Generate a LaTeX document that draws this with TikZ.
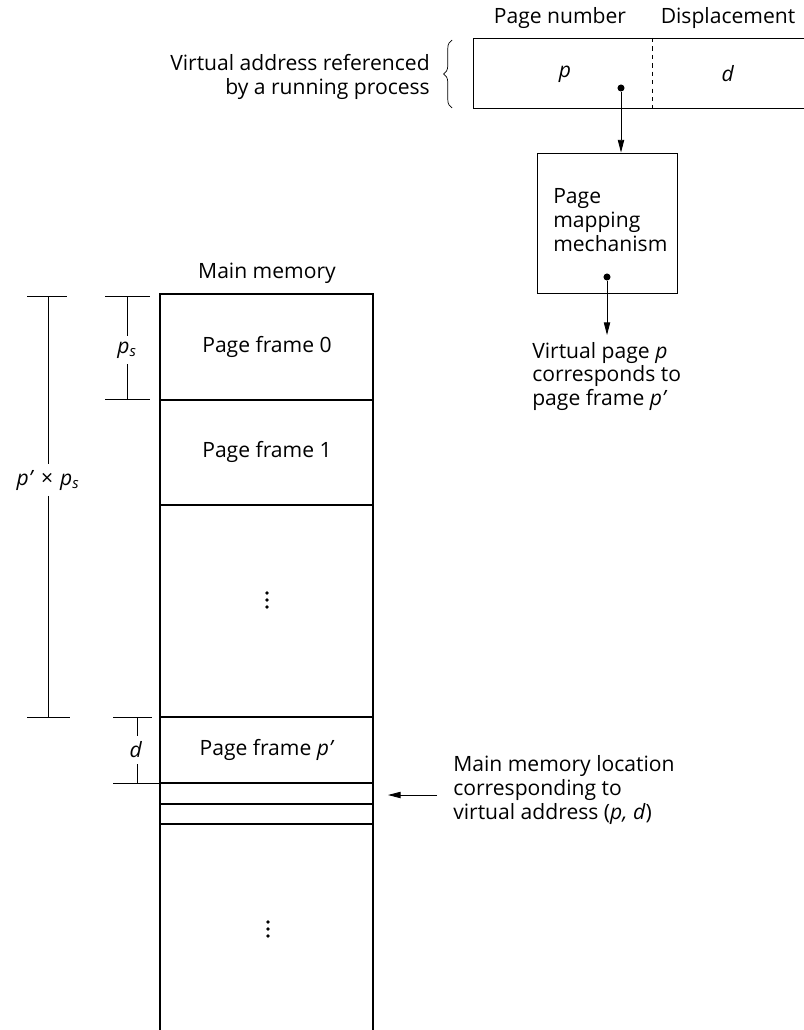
\documentclass[tikz,border=0pt]{standalone}
\usepackage{fontspec}
\setmainfont{Open Sans}
\usetikzlibrary{arrows.meta, positioning, decorations.pathreplacing}

\begin{document}
\begin{tikzpicture}[x=0.025cm, y=-0.025cm,
  txt/.style={font=\fontsize{15}{16.8}\selectfont, inner sep=0pt},
  note/.style={txt, align=left},
  box/.style={draw, line width=0.6pt},
  mem/.style={line width=0.8pt},
  dim/.style={line width=0.6pt},
  arrow/.style={-{Triangle[length=9pt,width=4.5pt]}, line width=0.6pt},
  dot/.style={circle, fill, inner sep=0pt, minimum size=5pt},
  vdot/.style={circle, fill, inner sep=0pt, minimum size=2.8pt}
]
\useasboundingbox (0,0) rectangle (803,1030);

% Virtual address
\draw[box] (810,38) -- (473,38) -- (473,108) -- (810,108);
\draw[dashed, line width=0.5pt] (652,38) -- (652,108);
\node[txt] (pnum) at (560,18) {Page number};
\node[txt] (disp) at (728,18) {Displacement};
\node[txt] (p) at (565,74) {\textit{p}};
\node[txt] (d) at (728,74) {\textit{d}};
\node[dot] (pdot) at (621,88) {};
\draw[decorate, decoration={brace, amplitude=6pt}, line width=0.5pt]
  (452,108) -- (452,40);
\node[note, align=right, anchor=east] (vaddr) at (430,77)
  {Virtual address referenced\\by a running process};

% Page mapping mechanism
\node[box, minimum width=3.5cm, minimum height=3.5cm] (pmm) at (607,223) {};
\node[note, anchor=west] (pmmtext) at (553,220) {Page\\mapping\\mechanism};
\node[dot] (mdot) at (607,277) {};
\draw[arrow] (pdot) -- (pdot |- pmm.north);
\node[note, anchor=north west] (vpage) at (532,342)
  {Virtual page \textit{p}\\corresponds to\\page frame \textit{p’}};
\coordinate (vptip) at (607,335);
\draw[arrow] (mdot) -- (vptip);

% Main memory
\node[txt] (mmem) at (267,273) {Main memory};
\draw[mem] (160,1040) -- (160,294) -- (373,294) -- (373,1040);
\foreach \y in {400,505,717,824}
  \draw[mem] (160,\y) -- (373,\y);
\draw[line width=1.2pt] (160,783) rectangle (373,804);
\node[txt] (pf0) at (267,347) {Page frame 0};
\node[txt] (pf1) at (267,452) {Page frame 1};
\node[txt] (pfp) at (267,750) {Page frame \textit{p’}};
\foreach \k in {-7,0,7} {
  \node[vdot] at (267,600+\k) {};
  \node[vdot] at (268,929+\k) {};
}

% Location arrow
\coordinate (loc) at (388,795);
\node[note, anchor=west] (locnote) at (453,790)
  {Main memory location\\corresponding to\\virtual address (\textit{p, d})};
\draw[arrow] (437,795) -- (loc);

% Dimensions
\draw[dim] (27,296) -- (67,296);
\draw[dim] (27,717) -- (70,717);
\node[txt, fill=white, inner sep=4pt] (pxps) at (48,480)
  {\textit{p’}\,\,×\,\,\textit{p\textsubscript{s}}};
\draw[dim] (48,296) -- (pxps.north);
\draw[dim] (pxps.south) -- (48,717);

\draw[dim] (105,296) -- (150,296);
\draw[dim] (105,399) -- (150,399);
\node[txt, inner sep=4pt] (ps) at (127,350) {\textit{p\textsubscript{s}}};
\draw[dim] (127,296) -- (ps.north);
\draw[dim] (ps.south) -- (127,399);

\draw[dim] (113,717) -- (152,717);
\draw[dim] (113,783) -- (160,783);
\node[txt, inner sep=4pt] (dl) at (136,750) {\textit{d}};
\draw[dim] (137,717) -- (dl.north -| 137,0);
\draw[dim] (dl.south -| 137,0) -- (137,783);
\end{tikzpicture}
\end{document}
